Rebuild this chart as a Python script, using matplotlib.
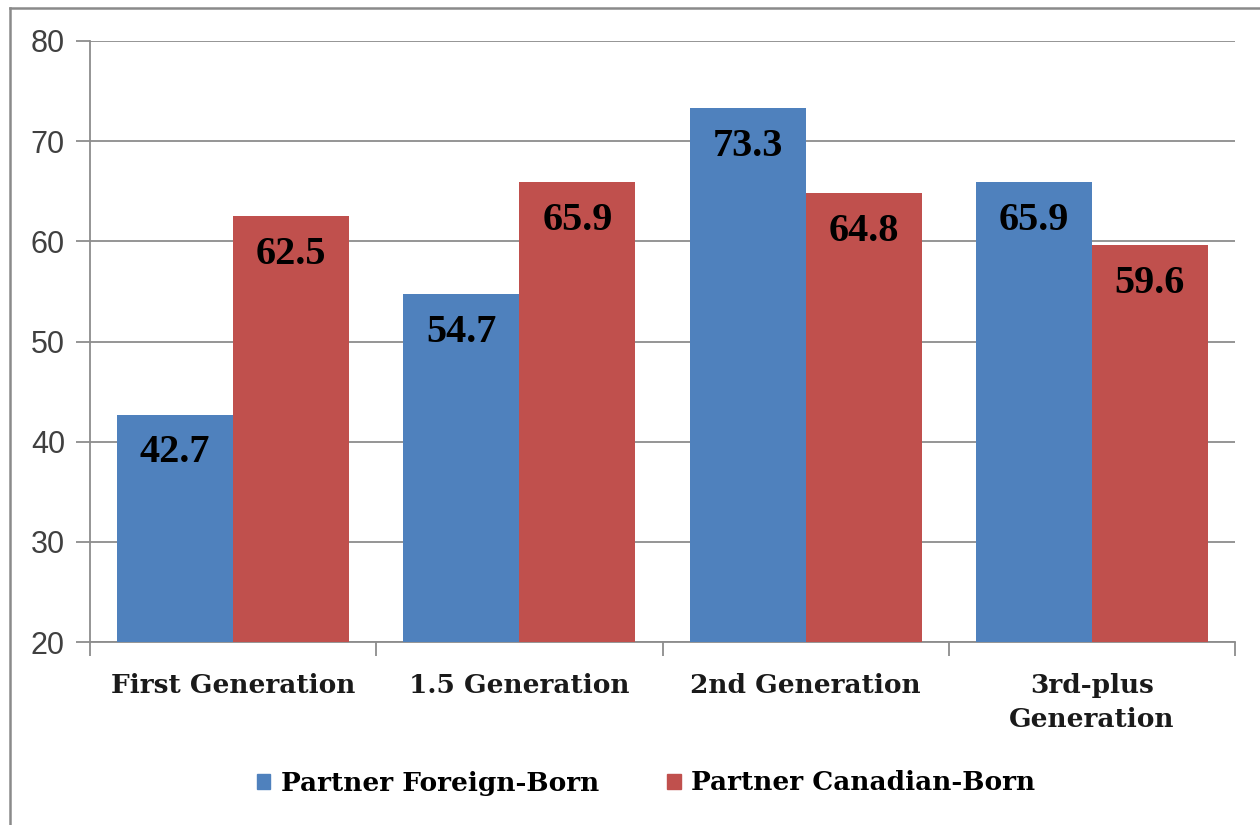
import matplotlib
matplotlib.use("Agg")
import matplotlib.pyplot as plt
import numpy as np
from matplotlib.patches import Rectangle
from matplotlib.lines import Line2D

categories = ["First Generation", "1.5 Generation", "2nd Generation", "3rd-plus\nGeneration"]
series_names = ["Partner Foreign-Born", "Partner Canadian-Born"]
foreign_born = [42.7, 54.7, 73.3, 65.9]
canadian_born = [62.5, 65.9, 64.8, 59.6]
yticks = [20, 30, 40, 50, 60, 70, 80]

blue = "#4F81BD"
red = "#C0504D"
grid_c = "#8C8C8C"
serif = ["Liberation Serif", "DejaVu Serif"]
wide_serif = ["DejaVu Serif", "Liberation Serif"]

fig = plt.figure(figsize=(12.6, 8.25), dpi=100)
fig.patch.set_facecolor("white")
# outer frame (left and top visible)
fig.add_artist(Line2D([10/1260, 10/1260], [0, 1 - 8/825], transform=fig.transFigure, color="#8A8A8A", lw=1.8))
fig.add_artist(Line2D([10/1260, 1], [1 - 8/825, 1 - 8/825], transform=fig.transFigure, color="#8A8A8A", lw=1.8))

ax = fig.add_axes([90/1260, 1 - 642/825, (1235 - 90)/1260, (642 - 41)/825])
x = np.arange(len(categories))
w = 0.405
b1 = ax.bar(x - w/2, foreign_born, w, bottom=0, color=blue, zorder=3, label=series_names[0])
b2 = ax.bar(x + w/2, canadian_born, w, bottom=0, color=red, zorder=3, label=series_names[1])
ax.set_ylim(20, 80)
ax.set_xlim(-0.5, len(categories) - 0.5)
ax.set_yticks(yticks)
ax.yaxis.grid(True, color=grid_c, lw=1.3, zorder=0)
for s in ["top", "right"]:
    ax.spines[s].set_visible(False)
for s in ["left", "bottom"]:
    ax.spines[s].set_color(grid_c)
    ax.spines[s].set_linewidth(1.3)
ax.tick_params(axis="y", colors=grid_c, length=10, width=1.3, labelcolor="#404040", labelsize=22, pad=8)
for lab in ax.get_yticklabels():
    lab.set_family(["Liberation Sans", "DejaVu Sans"])

# category separators ticks
ax.set_xticks(np.arange(len(categories) + 1) - 0.5, minor=False)
ax.set_xticklabels([])
ax.tick_params(axis="x", colors=grid_c, length=10, width=1.3)
for i, c in enumerate(categories):
    ax.annotate(c, xy=(i, 20), xytext=(0, -31), textcoords="offset pixels",
                ha="center", va="top", fontsize=19, fontweight="bold",
                family=wide_serif, color="#1a1a1a", linespacing=1.45)

for bars, vals in ((b1, foreign_born), (b2, canadian_born)):
    for r, v in zip(bars, vals):
        ax.annotate(f"{v:.1f}", xy=(r.get_x() + r.get_width()/2, v), xytext=(0, -38),
                    textcoords="offset pixels", ha="center", va="center",
                    fontsize=29, fontweight="bold", family=serif, color="black", zorder=5)

handles = [Rectangle((0, 0), 1, 1, color=blue), Rectangle((0, 0), 1, 1, color=red)]
leg = fig.legend(handles, series_names, loc="center", bbox_to_anchor=(646/1260, 1 - 783/825),
                 ncol=2, frameon=False, prop={"family": wide_serif, "weight": "bold", "size": 19},
                 handlelength=0.5, handleheight=0.5, handletextpad=0.4, columnspacing=2.6)

fig.savefig("out.png", dpi=100, facecolor="white")
